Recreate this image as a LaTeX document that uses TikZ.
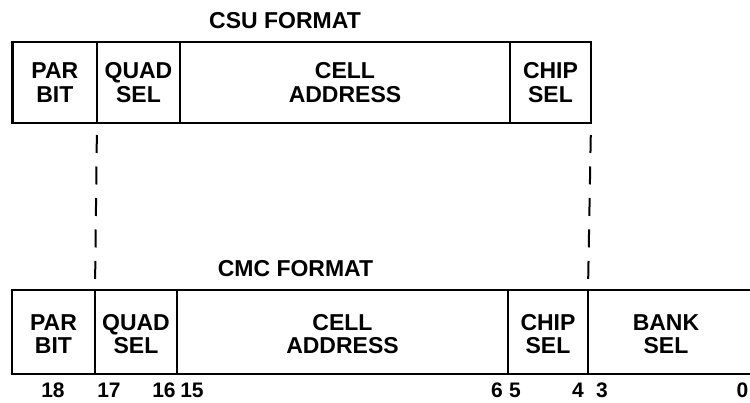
\documentclass[tikz,border=0pt]{standalone}
\usepackage{fontspec}
\setmainfont{Liberation Sans}
\begin{document}
\begin{tikzpicture}[x=1pt,y=-1pt,
  fieldbox/.style={draw, line width=2.5pt, outer sep=0pt, inner sep=0pt},
  fieldtext/.style={align=center, inner sep=0pt, font=\fontsize{23}{23.5}\selectfont\bfseries},
  heading/.style={anchor=base, inner sep=0pt, font=\fontsize{23}{23.5}\selectfont\bfseries},
  bitnum/.style={anchor=base, inner sep=0pt, font=\fontsize{21}{21}\selectfont\bfseries},
  dashline/.style={line width=2pt, dash pattern=on 18pt off 13.5pt}]
\clip (0,0) rectangle (750,402);
% CSU format
\node[heading] (csu) at (285,28) {CSU FORMAT};
\node[fieldbox, minimum width=84.3pt, minimum height=81pt] (tpar) at (54.85,82.5) {};
\node[fieldbox, minimum width=83pt, minimum height=81pt] (tquad) at (138.5,82.5) {};
\node[fieldbox, minimum width=330pt, minimum height=81pt] (tcell) at (345,82.5) {};
\node[fieldbox, minimum width=81pt, minimum height=81pt] (tchip) at (550.5,82.5) {};
\node[fieldtext] (tpart) at (tpar.center) {PAR\\BIT};
\node[fieldtext] (tquadt) at (tquad.center) {QUAD\\SEL};
\node[fieldtext] (tcellt) at (tcell.center) {CELL\\ADDRESS};
\node[fieldtext] (tchipt) at (tchip.center) {CHIP\\SEL};
% CMC format
\node[heading] (cmc) at (295.5,276) {CMC FORMAT};
\node[fieldbox, minimum width=83pt, minimum height=84pt] (bpar) at (53.5,332) {};
\node[fieldbox, minimum width=82pt, minimum height=84pt] (bquad) at (136,332) {};
\node[fieldbox, minimum width=331pt, minimum height=84pt] (bcell) at (342.5,332) {};
\node[fieldbox, minimum width=80pt, minimum height=84pt] (bchip) at (548,332) {};
\node[fieldbox, minimum width=182pt, minimum height=84pt] (bbank) at (679,332) {};
\node[fieldtext] (bpart) at ([yshift=-2pt]bpar.center) {PAR\\BIT};
\node[fieldtext] (bquadt) at ([yshift=-2pt]bquad.center) {QUAD\\SEL};
\node[fieldtext] (bcellt) at ([yshift=-2pt]bcell.center) {CELL\\ADDRESS};
\node[fieldtext] (bchipt) at ([yshift=-2pt]bchip.center) {CHIP\\SEL};
\node[fieldtext] (bbankt) at (666,334) {BANK\\SEL};
% dashed correspondence lines
\draw[dashline, shorten <=12pt, shorten >=11pt] (tquad.south west) -- (bquad.north west);
\draw[dashline, shorten <=12pt, shorten >=11pt] (tchip.south east) -- (bchip.north east);
% bit numbers
\node[bitnum] (n18) at (53,397) {18};
\node[bitnum] (n17) at (109,397) {17};
\node[bitnum] (n16) at (164,397) {16};
\node[bitnum] (n15) at (192,397) {15};
\node[bitnum] (n6) at (497,397) {6};
\node[bitnum] (n5) at (515,397) {5};
\node[bitnum] (n4) at (578,397) {4};
\node[bitnum] (n3) at (602,397) {3};
\node[bitnum] (n0) at (742.5,397) {0};
\end{tikzpicture}
\end{document}
